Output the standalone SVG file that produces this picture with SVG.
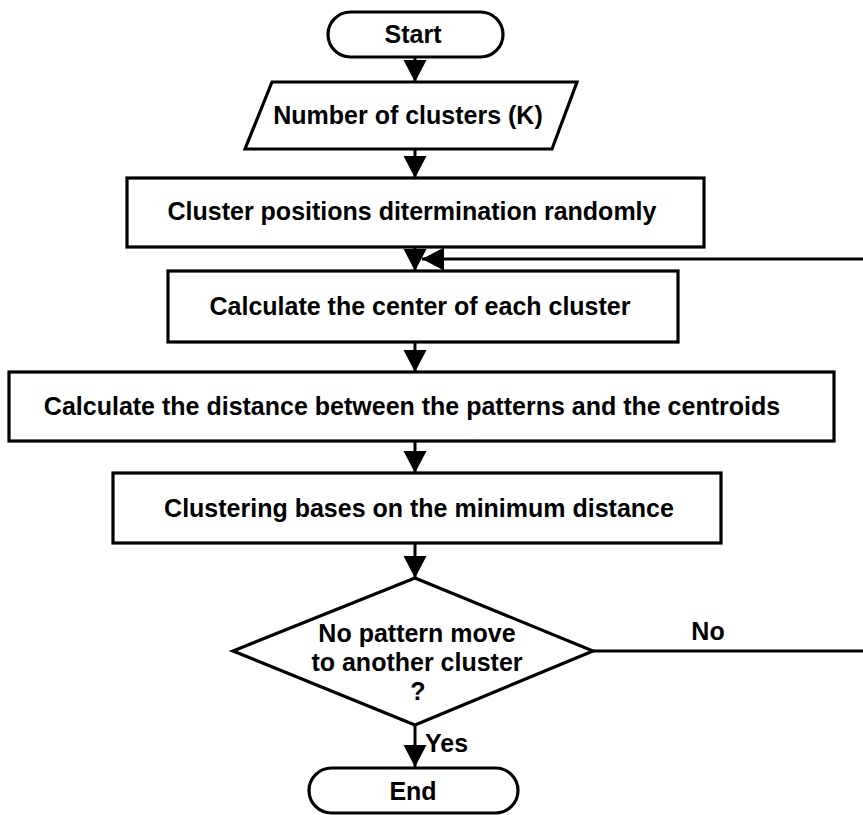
<svg xmlns="http://www.w3.org/2000/svg" width="863" height="815" viewBox="0 0 863 815">
<style>
.shape{fill:#fff;stroke:#000;stroke-width:3.2}
.t{font-family:"Liberation Sans",Arial,sans-serif;font-weight:bold;font-size:25px;fill:#000}
.c{text-anchor:middle}
.line{fill:none;stroke:#000;stroke-width:3}
</style>
<defs>
<marker id="ah" markerUnits="userSpaceOnUse" markerWidth="23" markerHeight="24" refX="22" refY="12" orient="auto" viewBox="0 0 23 24">
<path d="M0,0.5 L22,12 L0,23.5 z" fill="#000"/>
</marker>
</defs>
<rect width="863" height="815" fill="#fff"/>
<g id="connectors">
<line class="line" x1="415" y1="57" x2="415" y2="82" marker-end="url(#ah)"/>
<line class="line" x1="415" y1="149" x2="415" y2="178" marker-end="url(#ah)"/>
<line class="line" x1="415" y1="247" x2="415" y2="271" marker-end="url(#ah)"/>
<line class="line" x1="415" y1="342" x2="415" y2="372" marker-end="url(#ah)"/>
<line class="line" x1="415" y1="441" x2="415" y2="473" marker-end="url(#ah)"/>
<line class="line" x1="415" y1="543" x2="415" y2="578" marker-end="url(#ah)"/>
<line class="line" x1="415" y1="725" x2="415" y2="767" marker-end="url(#ah)"/>
<line class="line" x1="593" y1="651" x2="863" y2="651"/>
<line class="line" x1="863" y1="259" x2="422" y2="259" marker-end="url(#ah)"/>
<text class="t c" x="708" y="640">No</text>
<text class="t" x="425" y="752">Yes</text>
</g>
<g id="start">
<rect class="shape" x="328" y="12" width="175" height="45" rx="22.5"/>
<text class="t c" x="413" y="43">Start</text>
</g>
<g id="input-k">
<polygon class="shape" points="272,82 577,82 552,149 245,149"/>
<text class="t c" x="408" y="124">Number of clusters (K)</text>
</g>
<g id="init-positions">
<rect class="shape" x="127" y="178" width="577" height="69"/>
<text class="t c" x="412" y="220">Cluster positions ditermination randomly</text>
</g>
<g id="calc-center">
<rect class="shape" x="168" y="271" width="510" height="71"/>
<text class="t c" x="420" y="315">Calculate the center of each cluster</text>
</g>
<g id="calc-distance">
<rect class="shape" x="9" y="372" width="825" height="69"/>
<text class="t c" x="412" y="415">Calculate the distance between the patterns and the centroids</text>
</g>
<g id="clustering">
<rect class="shape" x="113" y="473" width="608" height="70"/>
<text class="t c" x="419" y="517">Clustering bases on the minimum distance</text>
</g>
<g id="decision">
<polygon class="shape" points="415,578 593,651 415,725 233,651"/>
<text class="t c" x="417" y="642">No pattern move</text>
<text class="t c" x="417" y="671">to another cluster</text>
<text class="t c" x="418" y="700">?</text>
</g>
<g id="end">
<rect class="shape" x="309" y="768" width="209" height="45" rx="22.5"/>
<text class="t c" x="413" y="800">End</text>
</g>
</svg>
